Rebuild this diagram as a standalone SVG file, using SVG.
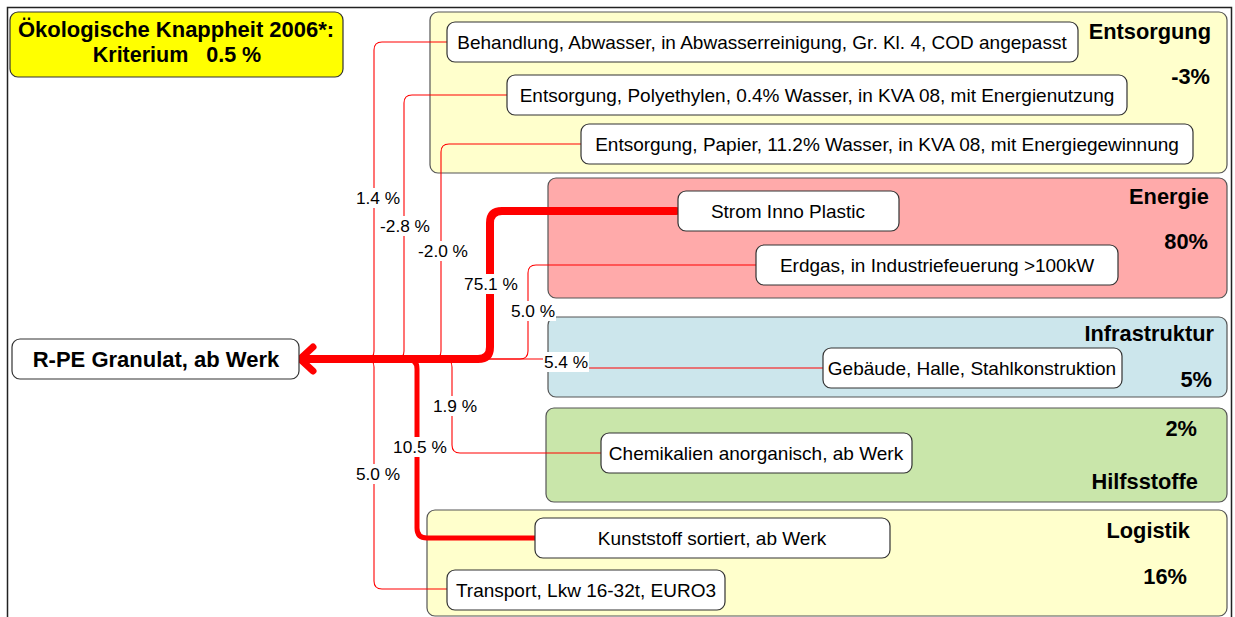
<svg xmlns="http://www.w3.org/2000/svg" width="1235" height="617" viewBox="0 0 1235 617">
<defs>
<style>
text{font-family:"Liberation Sans",Arial,sans-serif;fill:#000}
.grp{stroke:#555;stroke-width:1.2}
.node rect{fill:#fff;stroke:#333;stroke-width:1.2}
.node text{font-size:19px;text-anchor:middle}
.glab{font-size:21.8px;font-weight:bold;text-anchor:end}
.thin{fill:none;stroke:#ff0000;stroke-width:1.1}
.thick{fill:none;stroke:#ff0000;stroke-linecap:round;stroke-linejoin:round}
.lbl rect{fill:#fff}
.lbl text{font-size:17.3px;text-anchor:middle}
</style>
</defs>
<rect x="0" y="0" width="1235" height="617" fill="#fff"/>
<path d="M7.5,617 V7.5 H1231.5 V617" fill="none" stroke="#222" stroke-width="1.5"/>

<g id="title">
<rect x="10" y="12" width="333" height="65" rx="8" fill="#ffff00" stroke="#333" stroke-width="1.2"/>
<text x="176" y="37" font-size="21.5" font-weight="bold" text-anchor="middle" textLength="316" lengthAdjust="spacingAndGlyphs">Ökologische Knappheit 2006*:</text>
<text x="177" y="62" font-size="21.5" font-weight="bold" text-anchor="middle" style="white-space:pre">Kriterium   0.5 %</text>
</g>

<g id="grp-entsorgung">
<rect class="grp" x="430" y="12" width="797" height="161" rx="8" fill="#ffffcc"/>
<text class="glab" x="1211" y="39">Entsorgung</text>
<text class="glab" x="1210" y="84">-3%</text>
</g>
<g id="grp-energie">
<rect class="grp" x="548" y="178" width="679" height="120" rx="8" fill="#ffaaaa"/>
<text class="glab" x="1209" y="204">Energie</text>
<text class="glab" x="1208" y="249">80%</text>
</g>
<g id="grp-infrastruktur">
<rect class="grp" x="548" y="317" width="679" height="80" rx="8" fill="#cce6ec"/>
<text class="glab" x="1214" y="341">Infrastruktur</text>
<text class="glab" x="1212" y="387">5%</text>
</g>
<g id="grp-hilfsstoffe">
<rect class="grp" x="546" y="408" width="681" height="94" rx="8" fill="#c9e6aa"/>
<text class="glab" x="1197" y="436">2%</text>
<text class="glab" x="1198" y="489">Hilfsstoffe</text>
</g>
<g id="grp-logistik">
<rect class="grp" x="427" y="510" width="800" height="106" rx="8" fill="#ffffcc"/>
<text class="glab" x="1190" y="538">Logistik</text>
<text class="glab" x="1187" y="584">16%</text>
</g>

<g id="connectors">
<path class="thin" d="M447,42 H382 Q374,42 374,50 V351 Q374,359 366,359 H302"/>
<path class="thin" d="M507,95 H412 Q404,95 404,103 V351 Q404,359 396,359 H302"/>
<path class="thin" d="M581,144 H449 Q441,144 441,152 V351 Q441,359 433,359 H302"/>
<path class="thin" d="M756,265 H536 Q528,265 528,273 V351 Q528,359 520,359 H302"/>
<path class="thin" d="M823,368 H560 V359 H302"/>
<path class="thin" d="M601,453 H460 Q452,453 452,445 V367 Q452,359 444,359 H302"/>
<path class="thin" d="M447,589 H382 Q374,589 374,581 V367 Q374,359 366,359 H302"/>
<path class="thick" stroke-width="5" d="M535,538 H427 Q417,538 417,528 V369 Q417,359 407,359 H306"/>
<path class="thick" stroke-width="8" d="M676,211 H502 Q490,211 490,223 V347 Q490,359 478,359 H304"/>
<path class="thick" stroke-width="7" d="M313,347 L300,359 L313,371"/>
<g class="lbl"><rect x="356" y="188" width="44" height="20"/><text x="378" y="204">1.4 %</text></g>
<g class="lbl"><rect x="379" y="216" width="52" height="20"/><text x="405" y="232">-2.8 %</text></g>
<g class="lbl"><rect x="417" y="241" width="52" height="20"/><text x="443" y="257">-2.0 %</text></g>
<g class="lbl"><rect x="463" y="274" width="56" height="20"/><text x="491" y="290">75.1 %</text></g>
<g class="lbl"><rect x="510" y="301" width="46" height="20"/><text x="533" y="317">5.0 %</text></g>
<g class="lbl"><rect x="543" y="352" width="46" height="20"/><text x="566" y="368">5.4 %</text></g>
<g class="lbl"><rect x="432" y="396" width="46" height="20"/><text x="455" y="412">1.9 %</text></g>
<g class="lbl"><rect x="392" y="437" width="56" height="20"/><text x="420" y="453">10.5 %</text></g>
<g class="lbl"><rect x="355" y="464" width="46" height="20"/><text x="378" y="480">5.0 %</text></g>
</g>

<g id="node-behandlung" class="node"><rect x="447" y="22" width="631" height="40" rx="8"/><text x="762" y="48.5">Behandlung, Abwasser, in Abwasserreinigung, Gr. Kl. 4, COD angepasst</text></g>
<g id="node-polyethylen" class="node"><rect x="507" y="75" width="620" height="40" rx="8"/><text x="817" y="101.5">Entsorgung, Polyethylen, 0.4% Wasser, in KVA 08, mit Energienutzung</text></g>
<g id="node-papier" class="node"><rect x="581" y="124" width="612" height="40" rx="8"/><text x="887" y="150.5">Entsorgung, Papier, 11.2% Wasser, in KVA 08, mit Energiegewinnung</text></g>
<g id="node-strom" class="node"><rect x="678" y="191" width="221" height="40" rx="8"/><text x="788" y="217.5">Strom Inno Plastic</text></g>
<g id="node-erdgas" class="node"><rect x="756" y="245" width="362" height="40" rx="8"/><text x="937" y="271.5">Erdgas, in Industriefeuerung &gt;100kW</text></g>
<g id="node-gebaeude" class="node"><rect x="823" y="348" width="299" height="40" rx="8"/><text x="972" y="374.5">Gebäude, Halle, Stahlkonstruktion</text></g>
<g id="node-chemikalien" class="node"><rect x="601" y="433" width="311" height="40" rx="8"/><text x="756" y="459.5">Chemikalien anorganisch, ab Werk</text></g>
<g id="node-kunststoff" class="node"><rect x="535" y="518" width="355" height="40" rx="8"/><text x="712" y="544.5">Kunststoff sortiert, ab Werk</text></g>
<g id="node-transport" class="node"><rect x="447" y="570" width="278" height="40" rx="8"/><text x="586" y="596.5">Transport, Lkw 16-32t, EURO3</text></g>
<g id="node-rpe" class="node"><rect x="12" y="339" width="287" height="40" rx="8"/><text x="156" y="366.5" style="font-size:22px;font-weight:bold">R-PE Granulat, ab Werk</text></g>
</svg>
